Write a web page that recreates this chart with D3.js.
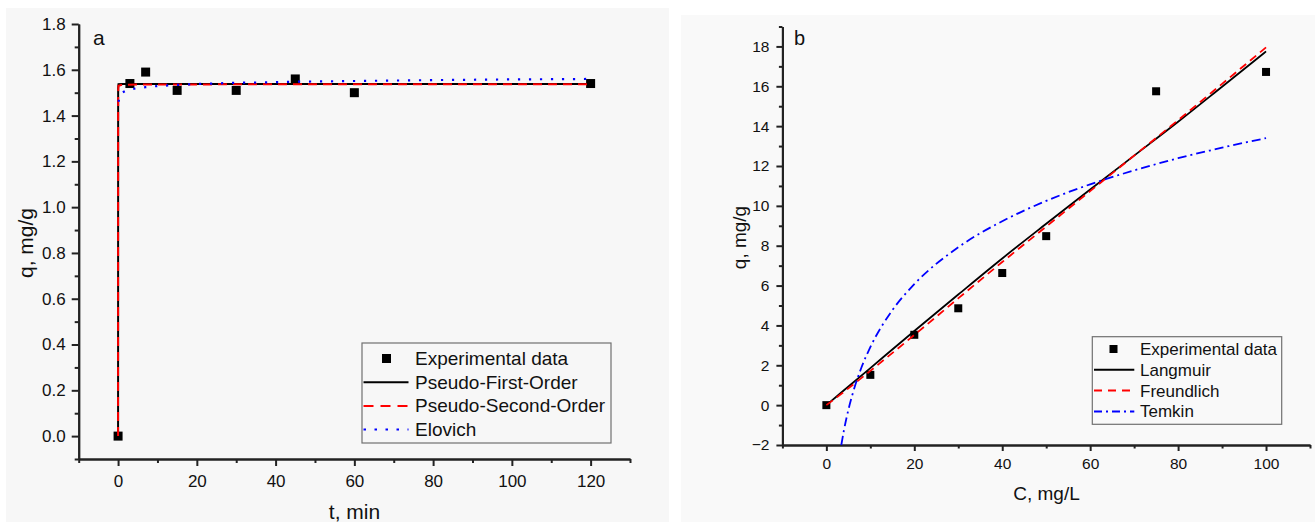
<!DOCTYPE html>
<html>
<head>
<meta charset="utf-8">
<script src="https://cdn.jsdelivr.net/npm/d3@7"></script>
<style>
  html, body { margin: 0; padding: 0; background: #ffffff; }
  svg { display: block; }
  text { font-family: "Liberation Sans", Arial, sans-serif; fill: #111; }
</style>
</head>
<body>
<svg id="chart" width="1315" height="522"></svg>
<script>
// ---------- Panel a: kinetics ----------
const timeExp = [0, 3, 7, 15, 30, 45, 60, 120];
const qExpA   = [0, 1.54, 1.59, 1.51, 1.51, 1.56, 1.50, 1.54];

const timePFO = [0, 0.02, 0.1, 1, 10, 60, 120];
const qPFO    = [0, 1.52, 1.537, 1.538, 1.538, 1.538, 1.538];

const timePSO = [0, 0.02, 0.1, 1, 10, 60, 120];
const qPSO    = [0, 1.50, 1.530, 1.535, 1.536, 1.537, 1.537];

const timeElo = [0.1, 0.5, 1, 2, 3, 5, 7, 10, 15, 20, 30, 40, 45, 60, 80, 100, 120];
const qElo    = [1.46, 1.49, 1.50, 1.509, 1.514, 1.52, 1.524, 1.529, 1.534, 1.538, 1.543, 1.546, 1.548, 1.551, 1.555, 1.558, 1.56];

const xTicksA      = [0, 20, 40, 60, 80, 100, 120];
const xMinorTicksA = [-10, 10, 30, 50, 70, 90, 110, 130];
const yTicksA      = [0, 0.2, 0.4, 0.6, 0.8, 1.0, 1.2, 1.4, 1.6, 1.8];
const yMinorTicksA = [-0.1, 0.1, 0.3, 0.5, 0.7, 0.9, 1.1, 1.3, 1.5, 1.7];
const legendA = ["Experimental data", "Pseudo-First-Order", "Pseudo-Second-Order", "Elovich"];

// ---------- Panel b: isotherms ----------
const concExp = [0, 10, 20, 30, 40, 50, 75, 100];
const qExpB   = [0, 1.52, 3.53, 4.86, 6.63, 8.48, 15.75, 16.72];

const concLang = [0, 10, 20, 30, 40, 50, 60, 70, 80, 90, 100];
const qLang    = [0, 1.86, 3.72, 5.55, 7.36, 9.10, 10.82, 12.52, 14.22, 15.98, 17.75];

const concFreu = [0, 2, 5, 10, 20, 30, 40, 50, 60, 70, 80, 90, 100];
const qFreu    = [0, 0.33, 0.84, 1.72, 3.52, 5.36, 7.18, 8.96, 10.74, 12.52, 14.30, 16.12, 17.95];

const concTem = [3.4, 4, 5, 6, 8, 10, 15, 20, 30, 40, 50, 60, 70, 80, 90, 100];
const qTem    = [-2, -1.26, -0.24, 0.59, 1.90, 2.91, 4.76, 6.07, 7.92, 9.23, 10.25, 11.08, 11.78, 12.39, 12.92, 13.40];

const xTicksB      = [0, 20, 40, 60, 80, 100];
const xMinorTicksB = [-10, 10, 30, 50, 70, 90, 110];
const yTicksB      = [-2, 0, 2, 4, 6, 8, 10, 12, 14, 16, 18];
const yMinorTicksB = [-1, 1, 3, 5, 7, 9, 11, 13, 15, 17, 19];
const legendB = ["Experimental data", "Langmuir", "Freundlich", "Temkin"];

const svg = d3.select("#chart");
const AXIS = "#222";

// panel backgrounds
svg.append("rect").attr("x", 6).attr("y", 8).attr("width", 663).attr("height", 514).attr("fill", "#f7f7f7");
svg.append("rect").attr("x", 681).attr("y", 15).attr("width", 634).attr("height", 507).attr("fill", "#f9f9f9");

function zip(xs, ys) { return xs.map((x, i) => [x, ys[i]]); }

function drawAxes(g, x, y, opt) {
  const xAxis = d3.axisBottom(x).tickValues(opt.xTicks).tickSize(opt.major).tickSizeOuter(0)
    .tickPadding(opt.xPad).tickFormat(d3.format("d"));
  const xMinor = d3.axisBottom(x).tickValues(opt.xMinor).tickSize(opt.minor).tickSizeOuter(0).tickFormat("");
  const yAxis = d3.axisLeft(y).tickValues(opt.yTicks).tickSize(opt.major).tickSizeOuter(0)
    .tickPadding(opt.yPad).tickFormat(opt.yFmt);
  const yMinor = d3.axisLeft(y).tickValues(opt.yMinor).tickSize(opt.minor).tickSizeOuter(0).tickFormat("");

  const y0 = y.range()[0], x0 = x.range()[0];
  [xMinor, xAxis].forEach(ax => {
    const a = g.append("g").attr("transform", `translate(0,${y0})`).call(ax);
    a.select(".domain").attr("stroke", AXIS).attr("stroke-width", 2);
    a.selectAll(".tick line").attr("stroke", AXIS).attr("stroke-width", 2);
    a.selectAll(".tick text").style("font-size", opt.tickFont + "px")
      .style("font-family", '"Liberation Sans", Arial, sans-serif').attr("fill", "#111");
  });
  [yMinor, yAxis].forEach(ax => {
    const a = g.append("g").attr("transform", `translate(${x0},0)`).call(ax);
    a.select(".domain").attr("stroke", AXIS).attr("stroke-width", 2);
    a.selectAll(".tick line").attr("stroke", AXIS).attr("stroke-width", 2);
    a.selectAll(".tick text").style("font-size", opt.tickFont + "px")
      .style("font-family", '"Liberation Sans", Arial, sans-serif').attr("fill", "#111");
  });
}

function drawLegend(g, L) {
  g.append("rect").attr("x", L.x).attr("y", L.y).attr("width", L.w).attr("height", L.h)
    .attr("fill", "none").attr("stroke", "#707070").attr("stroke-width", 1.2);
  L.items.forEach((it, i) => {
    const base = L.base0 + i * L.step;
    const cy = base - L.off;
    if (it.type === "square") {
      g.append("rect").attr("x", L.symC - L.sq / 2).attr("y", cy - L.sq / 2)
        .attr("width", L.sq).attr("height", L.sq).attr("fill", "#000");
    } else {
      g.append("line").attr("x1", L.symX1).attr("x2", L.symX2).attr("y1", cy).attr("y2", cy)
        .attr("stroke", it.color).attr("stroke-width", 2).attr("stroke-dasharray", it.dash || null);
    }
    g.append("text").attr("x", L.textX).attr("y", base).style("font-size", L.font + "px").text(it.label);
  });
}

// ================= Panel a =================
{
  const g = svg.append("g");
  const x = d3.scaleLinear().domain([-10, 130]).range([78.7, 630]);
  const y = d3.scaleLinear().domain([-0.1, 1.8]).range([459, 24]);

  drawAxes(g, x, y, {
    xTicks: xTicksA, xMinor: xMinorTicksA, yTicks: yTicksA, yMinor: yMinorTicksA,
    major: 7, minor: 4, xPad: 9, yPad: 6, tickFont: 17, yFmt: d3.format(".1f")
  });

  const line = d3.line().x(d => x(d[0])).y(d => y(d[1]));

  g.selectAll("rect.pt").data(zip(timeExp, qExpA)).enter().append("rect").attr("class", "pt")
    .attr("x", d => x(d[0]) - 4.5).attr("y", d => y(d[1]) - 4.5)
    .attr("width", 9).attr("height", 9).attr("fill", "#000");

  g.append("path").datum(zip(timePFO, qPFO)).attr("d", line)
    .attr("fill", "none").attr("stroke", "#000").attr("stroke-width", 2);
  g.append("path").datum(zip(timePSO, qPSO)).attr("d", line)
    .attr("fill", "none").attr("stroke", "#ff0000").attr("stroke-width", 2).attr("stroke-dasharray", "9,6");
  g.append("path").datum(zip(timeElo, qElo)).attr("d", line)
    .attr("fill", "none").attr("stroke", "#0000ff").attr("stroke-width", 2.2).attr("stroke-dasharray", "2.2,8.8");

  g.append("text").attr("x", 93).attr("y", 45).style("font-size", "21px").text("a");
  g.append("text").attr("x", 354.5).attr("y", 519).attr("text-anchor", "middle")
    .style("font-size", "21px").text("t, min");
  g.append("text").attr("transform", "translate(33,243) rotate(-90)").attr("text-anchor", "middle")
    .style("font-size", "21px").text("q, mg/g");

  drawLegend(g, {
    x: 362, y: 343, w: 249, h: 100, base0: 365, step: 23.7, off: 6.5, font: 19,
    symX1: 363.5, symX2: 408.5, symC: 386.5, sq: 9, textX: 415,
    items: [
      { type: "square", label: legendA[0] },
      { type: "line", color: "#000", label: legendA[1] },
      { type: "line", color: "#ff0000", dash: "10,7", label: legendA[2] },
      { type: "line", color: "#0000ff", dash: "2.5,8.5", label: legendA[3] }
    ]
  });
}

// ================= Panel b =================
{
  const g = svg.append("g");
  const x = d3.scaleLinear().domain([-10, 110]).range([782.4, 1310]);
  const y = d3.scaleLinear().domain([-2, 19]).range([445, 26.5]);

  drawAxes(g, x, y, {
    xTicks: xTicksB, xMinor: xMinorTicksB, yTicks: yTicksB, yMinor: yMinorTicksB,
    major: 6, minor: 3.5, xPad: 7, yPad: 7, tickFont: 15.5, yFmt: d3.format("d")
  });

  const line = d3.line().x(d => x(d[0])).y(d => y(d[1]));
  const smooth = d3.line().curve(d3.curveMonotoneX).x(d => x(d[0])).y(d => y(d[1]));

  g.selectAll("rect.pt").data(zip(concExp, qExpB)).enter().append("rect").attr("class", "pt")
    .attr("x", d => x(d[0]) - 4).attr("y", d => y(d[1]) - 4)
    .attr("width", 8).attr("height", 8).attr("fill", "#000");

  g.append("path").datum(zip(concLang, qLang)).attr("d", smooth)
    .attr("fill", "none").attr("stroke", "#000").attr("stroke-width", 1.8);
  g.append("path").datum(zip(concFreu, qFreu)).attr("d", smooth)
    .attr("fill", "none").attr("stroke", "#ff0000").attr("stroke-width", 1.8).attr("stroke-dasharray", "8,5");
  g.append("path").datum(zip(concTem, qTem)).attr("d", smooth)
    .attr("fill", "none").attr("stroke", "#0000ff").attr("stroke-width", 1.8).attr("stroke-dasharray", "9,4,2,4");

  g.append("text").attr("x", 794).attr("y", 45).style("font-size", "20px").text("b");
  g.append("text").attr("x", 1046.5).attr("y", 500).attr("text-anchor", "middle")
    .style("font-size", "19px").text("C, mg/L");
  g.append("text").attr("transform", "translate(745.5,237.5) rotate(-90)").attr("text-anchor", "middle")
    .style("font-size", "19px").text("q, mg/g");

  drawLegend(g, {
    x: 1092.3, y: 336.7, w: 189.4, h: 87.6, base0: 355, step: 20.8, off: 6, font: 17,
    symX1: 1094, symX2: 1134.3, symC: 1113.5, sq: 8, textX: 1140,
    items: [
      { type: "square", label: legendB[0] },
      { type: "line", color: "#000", label: legendB[1] },
      { type: "line", color: "#ff0000", dash: "8,6", label: legendB[2] },
      { type: "line", color: "#0000ff", dash: "8,4,2,4", label: legendB[3] }
    ]
  });
}
</script>
</body>
</html>
